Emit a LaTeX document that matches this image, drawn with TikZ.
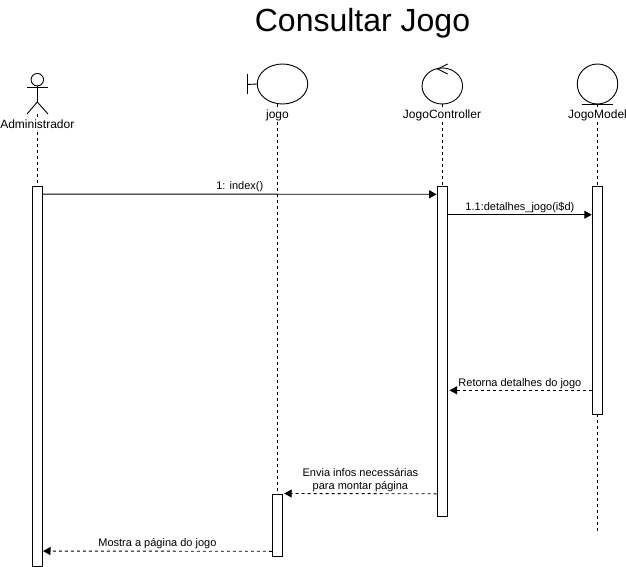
\documentclass[tikz,border=0pt]{standalone}
\usepackage{fontspec}
\setmainfont{Liberation Sans}
\usepackage{tikz}
\usetikzlibrary{arrows.meta, positioning, shapes.geometric}
\tikzset{
  life/.style={draw, dash pattern=on 3pt off 3pt},
  bar/.style={draw, fill=white, rectangle, minimum width=10.5pt, inner sep=0pt},
  shapebox/.style={draw, ellipse, inner sep=0pt},
  headlabel/.style={font=\fontsize{12}{14}\selectfont, fill=white, inner sep=1pt, anchor=base},
  msglabel/.style={font=\fontsize{11}{13}\selectfont, above, inner sep=0pt, align=center, yshift=1.5pt},
  call/.style={-{Triangle[length=7.5pt,width=8pt]}},
  reply/.style={call, dash pattern=on 3pt off 3pt}
}
\begin{document}
\begin{tikzpicture}[x=1pt, y=-1pt, line width=0.9pt]
\useasboundingbox (0,0) rectangle (626,567);
\node [font=\fontsize{32}{38}\selectfont, anchor=base] (title) at (362.5,32) {Consultar Jogo};

% actor
\node [draw, circle, minimum size=12.5pt, inner sep=0pt] (head) at (37.3,79.7) {};
\coordinate (hip) at (37.3,102);
\coordinate (foot) at (37.3,114);
\coordinate (armL) at (27,87.5);
\coordinate (armR) at (48,87.5);
\coordinate (legL) at (27,114);
\coordinate (legR) at (48,114);
\draw (head) -- (hip);
\draw (armL) -- (armR);
\draw (legL) -- (hip) -- (legR);

% boundary, control, entity
\node [shapebox, minimum width=50.5pt, minimum height=40pt] (view) at (282.5,84) {};
\coordinate (viewBarT) at (247.5,74.5);
\coordinate (viewBarB) at (247.5,94.5);
\coordinate (viewBarM) at (247.5,84.5);
\coordinate (viewFoot) at (277.5,104);
\draw (viewBarT) -- (viewBarB);
\draw (viewBarM) -- (view.west);

\node [shapebox, minimum width=40.5pt, minimum height=36pt] (ctrl) at (442.3,86) {};
\coordinate (ctrlTip) at (437.5,69);
\coordinate (ctrlT) at (447.7,64);
\coordinate (ctrlB) at (447.7,74);
\draw (ctrlT) -- (ctrlTip) -- (ctrlB);

\node [shapebox, minimum width=40.5pt, minimum height=40pt] (model) at (597.5,84) {};
\coordinate (modelL) at (581.7,104.3);
\coordinate (modelR) at (612.7,104.3);
\draw (modelL) -- (modelR);

% activations
\node [bar, minimum height=380pt] (barAdmin) at (37.3,376.2) {};
\node [bar, minimum height=62.5pt] (barView) at (277.5,525.2) {};
\node [bar, minimum height=329.5pt] (barCtrl) at (442.3,351.2) {};
\node [bar, minimum height=227.5pt] (barModel) at (597.5,300.2) {};
\coordinate (modelEnd) at (597.5,534);

% lifelines
\draw [life] (foot) -- (barAdmin.north);
\draw [life] (viewFoot) -- (barView.north);
\draw [life] (ctrl.south) -- (barCtrl.north);
\draw [life] (model.south) -- (barModel.north);
\draw [life] (barModel.south) -- (modelEnd);

\node [headlabel] (adminName) at (37.3,128.5) {Administrador};
\node [headlabel] (viewName) at (277.5,118) {jogo};
\node [headlabel] (ctrlName) at (442,118) {JogoController};
\node [headlabel] (modelName) at (597.5,118) {JogoModel};

% messages
\draw [call] ([yshift=-8.3pt]barAdmin.north east) -- node [msglabel] {1: index()} ([yshift=-8.3pt]barCtrl.north west);
\draw [call] ([yshift=-28.7pt]barCtrl.north east) -- node [msglabel] {1.1:detalhes\_jogo(i\$d)} ([yshift=-28.7pt]barModel.north west);
\draw [reply, shorten >=1.5pt] ([yshift=-204.3pt]barModel.north west) -- node [msglabel] {Retorna detalhes do jogo} ([yshift=-204.3pt]barCtrl.north east);
\draw [reply] ([yshift=-307.8pt]barCtrl.north west) -- node [msglabel] {Envia infos necessárias\\para montar página} ([xshift=1pt]barView.north east);
\draw [reply] ([yshift=-57.8pt]barView.north west) -- node [msglabel] {Mostra a página do jogo} ([yshift=-365.3pt]barAdmin.north east);
\end{tikzpicture}
\end{document}
